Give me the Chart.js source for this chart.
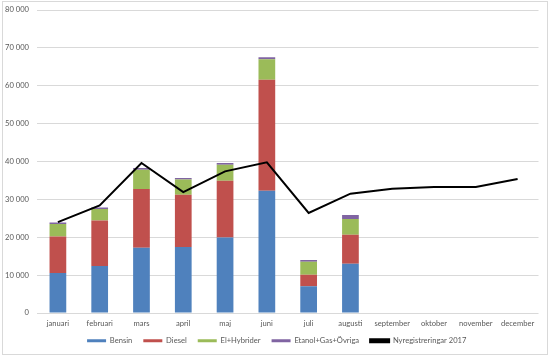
<!DOCTYPE html>
<html>
<head>
<meta charset="utf-8">
<script src="https://cdn.jsdelivr.net/npm/chart.js@4/dist/chart.umd.min.js"></script>
<style>
  html, body { margin: 0; padding: 0; background: #fff; }
  #wrap { position: absolute; left: 2px; top: 1px; width: 546px; height: 354px; box-sizing: border-box; border: 1px solid #d9d9d9; background: #fff; }
  canvas { display: block; }
</style>
</head>
<body>
<div id="wrap"><canvas id="c"></canvas></div>
<script>
const categories = ["januari","februari","mars","april","maj","juni","juli","augusti","september","oktober","november","december"];
const bensin  = [10550, 12400, 17230, 17410, 19950, 32270, 7030, 13010];
const diesel  = [9650, 12030, 15490, 13800, 14960, 29290, 3080, 7650];
const elHybrid = [3280, 3010, 5090, 4040, 4220, 5460, 3430, 4140];
const etanolGasOvriga = [420, 420, 450, 370, 450, 530, 440, 1060];
const nyreg2017 = [24000, 28400, 39600, 31900, 37400, 39800, 26400, 31500, 32800, 33300, 33300, 35400];
const yTicks = [0, 10000, 20000, 30000, 40000, 50000, 60000, 70000, 80000];

const FONT = "Lato, 'Liberation Sans', Arial, sans-serif";
const GRAY = '#595959';
const FS = 7.6;

function bar(label, data, color) {
  return { type: 'bar', label, data, backgroundColor: color, borderWidth: 0, stack: 'fuel', order: 1,
           barPercentage: 0.4, categoryPercentage: 1.0 };
}

const legendShift = {
  id: 'legendShift',
  afterLayout(chart) {
    const lg = chart.legend;
    if (!lg) return;
    const dy = (chart.scales.x.top + 13) - lg.top;
    lg.top += dy; lg.bottom += dy;
    lg.left += 6; lg.right += 6;
  }
};

new Chart(document.getElementById('c'), {
  plugins: [legendShift],
  data: {
    labels: categories,
    datasets: [
      bar('Bensin', bensin, '#4F81BD'),
      bar('Diesel', diesel, '#C0504D'),
      bar('El+Hybrider', elHybrid, '#9BBB59'),
      bar('Etanol+Gas+Övriga', etanolGasOvriga, '#8064A2'),
      { type: 'line', label: 'Nyregistreringar 2017', data: nyreg2017, borderColor: '#000', backgroundColor: '#000',
        borderWidth: 2, pointRadius: 0, tension: 0, stack: 'line', order: 0 }
    ]
  },
  options: {
    responsive: true,
    maintainAspectRatio: false,
    animation: false,
    layout: { padding: { top: 8, right: 8.5, left: 0, bottom: 0 } },
    scales: {
      x: {
        stacked: true,
        grid: { display: false, drawTicks: false },
        border: { display: false },
        ticks: { color: GRAY, font: { family: FONT, size: FS }, padding: 6, maxRotation: 0, autoSkip: false },
        afterFit: s => { s.height = 17; }
      },
      y: {
        stacked: true,
        min: 0, max: 80000,
        afterBuildTicks: s => { s.ticks = yTicks.map(v => ({ value: v })); },
        grid: { color: '#d9d9d9', lineWidth: 1, drawTicks: false },
        border: { display: false },
        ticks: { color: GRAY, font: { family: FONT, size: FS }, padding: 8,
                 callback: v => v === 0 ? '0' : String(v).replace(/\B(?=(\d{3})+(?!\d))/g, ' ') },
        afterFit: s => { s.width = 34; s.paddingTop = 0; s.paddingBottom = 0; }
      }
    },
    plugins: {
      tooltip: { enabled: false },
      legend: {
        position: 'bottom',
        maxHeight: 24,
        labels: {
          color: GRAY,
          font: { family: FONT, size: FS },
          boxWidth: 19, boxHeight: 3, padding: 11,
          sort: (a, b) => a.datasetIndex - b.datasetIndex
        }
      }
    }
  }
});
</script>
</body>
</html>
